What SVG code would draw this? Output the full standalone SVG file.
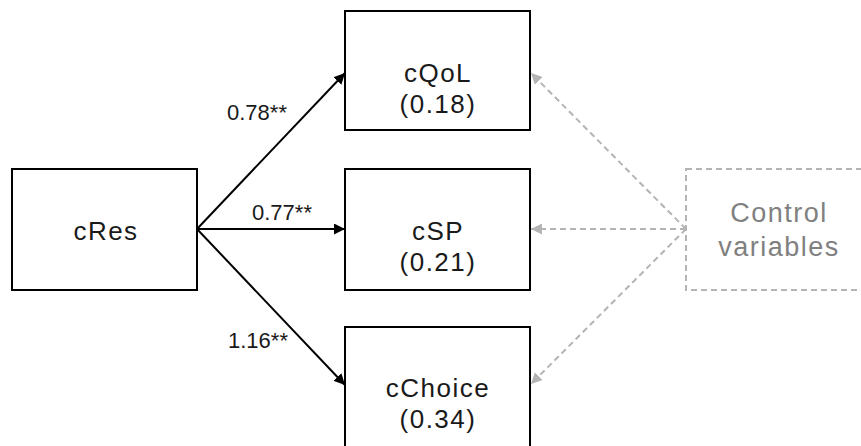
<svg xmlns="http://www.w3.org/2000/svg" width="861" height="446" viewBox="0 0 861 446">
  <style>
    .box { fill: #ffffff; stroke: #000000; stroke-width: 2; }
    .ctrl { fill: #ffffff; stroke: #b4b4b4; stroke-width: 2; stroke-dasharray: 6 4; }
    .node { font-family: "Liberation Sans", Arial, sans-serif; font-size: 26px; letter-spacing: 1.5px; fill: #1a1a1a; text-anchor: middle; }
    .ctrltext { font-family: "Liberation Sans", Arial, sans-serif; font-size: 27px; letter-spacing: 1.5px; fill: #808080; text-anchor: middle; }
    .lbl { font-family: "Liberation Sans", Arial, sans-serif; font-size: 22px; fill: #1a1a1a; }
    .path { stroke: #000000; stroke-width: 2; fill: none; marker-end: url(#head); }
    .cpath { stroke: #b4b4b4; stroke-width: 2; fill: none; stroke-dasharray: 6 4; marker-end: url(#greyhead); }
  </style>
  <defs>
    <marker id="head" viewBox="0 0 10 10" refX="10" refY="5" markerWidth="5.5" markerHeight="5.5" markerUnits="strokeWidth" orient="auto">
      <path d="M0,0 L10,5 L0,10 z" fill="#000000"/>
    </marker>
    <marker id="greyhead" viewBox="0 0 10 10" refX="10" refY="5" markerWidth="5.5" markerHeight="5.5" markerUnits="strokeWidth" orient="auto">
      <path d="M0,0 L10,5 L0,10 z" fill="#b4b4b4"/>
    </marker>
  </defs>

  <rect width="861" height="446" fill="#ffffff"/>

  <!-- paths between the variables -->
  <g id="connectors">
    <line class="path" x1="197" y1="229" x2="345" y2="73"/>
    <line class="path" x1="197" y1="229" x2="345" y2="229"/>
    <line class="path" x1="197" y1="229" x2="345" y2="385"/>
    <line class="cpath" x1="686" y1="229" x2="531" y2="73"/>
    <line class="cpath" x1="686" y1="229" x2="531" y2="229"/>
    <line class="cpath" x1="686" y1="229" x2="531" y2="384"/>
    <text class="lbl" x="227" y="120">0.78**</text>
    <text class="lbl" x="252" y="220">0.77**</text>
    <text class="lbl" x="228" y="348">1.16**</text>
  </g>

  <g id="cRes">
    <rect class="box" x="12" y="169" width="185" height="121"/>
    <text class="node" x="106" y="240">cRes</text>
  </g>

  <g id="cQoL">
    <rect class="box" x="345" y="11" width="185" height="119"/>
    <text class="node" x="438" y="82">cQoL</text>
    <text class="node" x="438" y="113">(0.18)</text>
  </g>

  <g id="cSP">
    <rect class="box" x="345" y="169" width="185" height="121"/>
    <text class="node" x="438" y="240">cSP</text>
    <text class="node" x="438" y="271">(0.21)</text>
  </g>

  <g id="cChoice">
    <rect class="box" x="345" y="327" width="185" height="125"/>
    <text class="node" x="438" y="397">cChoice</text>
    <text class="node" x="438" y="428">(0.34)</text>
  </g>

  <g id="control">
    <rect class="ctrl" x="686" y="169" width="185" height="121"/>
    <text class="ctrltext" x="779" y="222">Control</text>
    <text class="ctrltext" x="779" y="256">variables</text>
  </g>
</svg>
